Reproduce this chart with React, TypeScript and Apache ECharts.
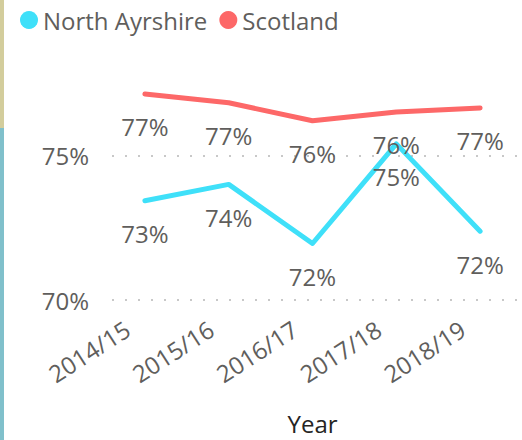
import React, { useEffect, useRef } from "react";
import * as echarts from "echarts";

const categories = ["2014/15", "2015/16", "2016/17", "2017/18", "2018/19"];
const northAyrshire = [73.34, 73.91, 71.84, 75.33, 72.27];
const scotland = [77.08, 76.77, 76.14, 76.45, 76.59];
const seriesNames = ["North Ayrshire", "Scotland"];
const yMin = 70;
const yMax = 80;
const yInterval = 5;
const xAxisTitle = "Year";

const FONT = "'Open Sans', 'Noto Sans', sans-serif";
const CYAN = "#3fe0f9";
const RED = "#fd6868";
const GREY = "#605e5c";

export default function App() {
  const ref = useRef<HTMLDivElement>(null);
  useEffect(() => {
    if (!ref.current) return;
    const chart = echarts.init(ref.current, undefined, { renderer: "svg" });
    const labelCfg = {
      show: true,
      position: "bottom",
      distance: 20,
      color: GREY,
      fontSize: 24,
      fontFamily: FONT,
      formatter: (p: any) => Math.round(p.value) + "%",
    };
    chart.setOption({
      animation: false,
      backgroundColor: "#ffffff",
      textStyle: { fontFamily: FONT },
      graphic: [
        { type: "rect", left: 0, top: 0, shape: { width: 4, height: 128 }, style: { fill: "#d3cd9c" } },
        { type: "rect", left: 0, top: 128, shape: { width: 4, height: 312 }, style: { fill: "#80c0cb" } },
      ],
      legend: {
        data: seriesNames,
        left: 20,
        top: 8,
        padding: 0,
        icon: "circle",
        itemWidth: 18,
        itemHeight: 18,
        itemGap: 12,
        textStyle: { color: GREY, fontSize: 24, fontFamily: FONT },
      },
      grid: [
        { left: 103, right: -2, top: 10.6, bottom: 140, containLabel: false },
        { left: 112, right: 0, top: 10.6, bottom: 140, containLabel: false },
      ],
      xAxis: [
        {
          type: "category",
          gridIndex: 0,
          data: categories,
          boundaryGap: true,
          axisLine: { show: false },
          axisTick: { show: false },
          axisLabel: {
            rotate: 33,
            margin: 19,
            padding: [0, 21, 0, 0],
            color: GREY,
            fontSize: 24,
            fontFamily: FONT,
            interval: 0,
          },
          name: xAxisTitle,
          nameLocation: "middle",
          nameGap: 115,
          nameTextStyle: { color: "#252423", fontSize: 24, fontFamily: FONT },
        },
        { type: "value", gridIndex: 1, show: false, min: 0, max: 1 },
      ],
      yAxis: [
        { type: "value", gridIndex: 0, min: yMin, max: yMax, show: false },
        {
          type: "value",
          gridIndex: 1,
          min: yMin,
          max: yMax,
          interval: yInterval,
          axisLine: { show: false },
          axisTick: { show: false },
          axisLabel: {
            margin: 23,
            color: GREY,
            fontSize: 24,
            fontFamily: FONT,
            showMaxLabel: false,
            formatter: (v: number) => v + "%",
          },
          splitLine: {
            show: true,
            showMaxLine: false,
            lineStyle: { color: "#c8c8c8", width: 2, type: [2, 11] },
          },
        },
      ],
      series: [
        {
          name: seriesNames[0],
          type: "line",
          xAxisIndex: 0,
          yAxisIndex: 0,
          data: northAyrshire,
          symbol: "circle",
          symbolSize: 2,
          color: CYAN,
          itemStyle: { color: CYAN },
          lineStyle: { color: CYAN, width: 5, cap: "round", join: "round" },
          label: labelCfg,
        },
        {
          name: seriesNames[1],
          type: "line",
          xAxisIndex: 0,
          yAxisIndex: 0,
          data: scotland,
          symbol: "circle",
          symbolSize: 2,
          color: RED,
          itemStyle: { color: RED },
          lineStyle: { color: RED, width: 5, cap: "round", join: "round" },
          label: labelCfg,
        },
      ],
    });
    return () => chart.dispose();
  }, []);
  return (
    <div
      ref={ref}
      style={{ position: "fixed", left: 0, top: 0, width: 522, height: 440 }}
    />
  );
}
